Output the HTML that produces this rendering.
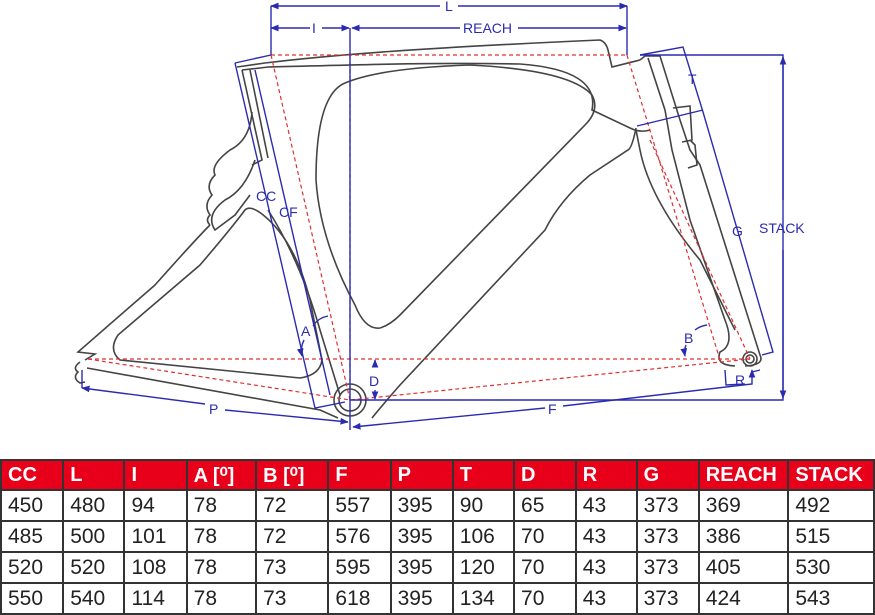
<!DOCTYPE html>
<html><head><meta charset="utf-8"><style>
body{margin:0;background:#fff;width:875px;height:615px;overflow:hidden;font-family:"Liberation Sans",sans-serif}
svg{position:absolute;left:0;top:0}
table{position:absolute;left:0;top:459px;border-collapse:collapse;font-size:21px}
td{border:2px solid #333;height:29px;padding:0 0 0 6px;color:#222}
tr.h td{background:#e8001b;color:#fff;font-weight:bold;height:28px;font-size:20px}
</style></head><body>
<svg width="875" height="455" viewBox="0 0 875 455">
<defs><marker id="ar" viewBox="0 0 10 10" refX="9" refY="5" markerWidth="6" markerHeight="6" orient="auto-start-reverse"><path d="M0,1 L10,5 L0,9z" fill="#2b2bb0"/></marker></defs>
<g fill="none" stroke="#444" stroke-width="1.6">
<path d="M237,67 L265,63 C330,55 420,48 600,40 Q606,42 608,50 L612,67 L640,60"/>
<path d="M242,70 L260,68 L268,67 C320,66 420,62 520,64 Q600,70 592,110 L630,128 Q640,133 650,130"/>
<path d="M345,83 Q316,95 316,180 Q320,240 355,305 Q365,330 380,328 Q390,325 400,315 L585,125 Q600,110 592,95 Q570,70 470,65 Q380,68 345,83Z"/>
<path d="M636,128 Q632,148 628,150 L590,175 Q560,200 545,230 L400,385 Q385,402 372,418"/>
<path d="M242,70 L262,160 L252,165"/>
<path d="M250,70 L268,158"/>
<path d="M255,160 Q245,190 225,200 Q205,215 215,230 L235,215 L250,195"/>
<path d="M252,112 Q250,140 230,150 Q210,165 215,175 Q205,185 212,195 Q203,205 210,215 Q205,220 210,225"/>
<path d="M210,225 Q195,240 155,285 L78,352 L95,354 L85,360"/>
<path d="M245,210 Q250,205 262,214 Q295,240 310,300 Q318,340 322,360 Q320,375 300,378 L120,360 Q108,350 118,335 L200,265 Q230,230 245,210Z"/>
<path d="M87,368 L320,410 L338,418"/>
<path d="M80,362 Q72,368 78,372 Q72,378 80,383 L85,382"/>
<path d="M268,210 Q300,260 320,330 L340,395"/>
<path d="M640,60 L645,56 L660,56 L680,120 L690,150 L700,165 L760,355 Q765,365 745,366"/>
<path d="M648,58 L665,110 L672,150 L690,220 L725,320 Q735,345 720,352 Q715,365 735,366"/>
<path d="M636,130 L640,150 Q650,200 700,260 L735,330"/>
<path d="M673,108 L690,106 L692,140 L682,142"/>
<path d="M690,140 L695,145 L697,165 L688,168"/>
<circle cx="350" cy="400" r="16"/><circle cx="350" cy="400" r="11"/>
<circle cx="750" cy="359" r="7"/><circle cx="750" cy="359" r="4"/>
</g>
<g fill="none" stroke="#e03030" stroke-width="1.2" stroke-dasharray="4,3">
<path d="M271,55 L627,55"/><path d="M271,55 L350,400"/>
<path d="M88,359 L750,359"/><path d="M88,359 L350,400 L750,359"/>
<path d="M627,55 L720,360"/><path d="M650,140 L750,359"/>
<path d="M350,55 L350,400"/>
</g>
<g fill="none" stroke="#2b2bb0" stroke-width="1.4">
<path d="M271,6 L271,55 M627,6 L627,55 M350,28 L350,430"/>
<path d="M458,6 L627,6" marker-end="url(#ar)"/>
<path d="M440,6 L271,6" marker-end="url(#ar)"/>
<path d="M310,28 L271,28" marker-end="url(#ar)"/><path d="M322,28 L349,28" marker-end="url(#ar)"/>
<path d="M460,28 L352,28" marker-end="url(#ar)"/><path d="M518,28 L626,28" marker-end="url(#ar)"/>
<path d="M640,55 L783,55 L783,400 L350,400"/>
<path d="M783,200 L783,57" marker-end="url(#ar)"/><path d="M783,250 L783,398" marker-end="url(#ar)"/>
<path d="M235,63 L271,55"/><path d="M235,63 L315,408 L345,402"/>
<path d="M255,70 L330,395"/>
<path d="M82,388 L82,370"/><path d="M205,404 L82,388" marker-end="url(#ar)"/><path d="M225,410 L348,422" marker-end="url(#ar)"/>
<path d="M545,408 L353,427" marker-end="url(#ar)"/><path d="M563,406 L752,384 L752,370" marker-end="url(#ar)"/>
<path d="M640,55 L683,47 L703,112 L773,352 L762,355"/>
<path d="M637,126 L703,110"/>
<path d="M375,365 L375,360" marker-end="url(#ar)"/><path d="M375,390 L375,399" marker-end="url(#ar)"/>
<path d="M313,326 Q318,318 328,316"/><path d="M304,340 Q300,348 302,356" marker-end="url(#ar)"/>
<path d="M695,330 Q700,326 707,325"/><path d="M686,345 Q684,350 685,356" marker-end="url(#ar)"/>
<path d="M725,370 L726,385 L745,384"/><path d="M752,372 L760,370"/>
</g>
<g fill="#2b2bb0" font-family="Liberation Sans,sans-serif" font-size="14">
<text x="445" y="11">L</text><text x="312" y="33">I</text><text x="463" y="33">REACH</text>
<text x="759" y="233">STACK</text><text x="732" y="236">G</text><text x="688" y="84">T</text>
<text x="256" y="201">CC</text><text x="279" y="217">CF</text><text x="301" y="336">A</text>
<text x="684" y="343">B</text><text x="369" y="386">D</text><text x="735" y="385">R</text>
<text x="209" y="414">P</text><text x="548" y="414">F</text>
</g>
</svg>
<table>
<tr class="h"><td style="width:55px">CC</td><td style="width:54px">L</td><td style="width:55px">I</td><td style="width:63px">A [⁰]</td><td style="width:66px">B [⁰]</td><td style="width:55px">F</td><td style="width:55px">P</td><td style="width:54px">T</td><td style="width:55px">D</td><td style="width:54px">R</td><td style="width:55px">G</td><td style="width:82px">REACH</td><td style="width:78px">STACK</td></tr>
<tr><td>450</td><td>480</td><td>94</td><td>78</td><td>72</td><td>557</td><td>395</td><td>90</td><td>65</td><td>43</td><td>373</td><td>369</td><td>492</td></tr>
<tr><td>485</td><td>500</td><td>101</td><td>78</td><td>72</td><td>576</td><td>395</td><td>106</td><td>70</td><td>43</td><td>373</td><td>386</td><td>515</td></tr>
<tr><td>520</td><td>520</td><td>108</td><td>78</td><td>73</td><td>595</td><td>395</td><td>120</td><td>70</td><td>43</td><td>373</td><td>405</td><td>530</td></tr>
<tr><td>550</td><td>540</td><td>114</td><td>78</td><td>73</td><td>618</td><td>395</td><td>134</td><td>70</td><td>43</td><td>373</td><td>424</td><td>543</td></tr>
</table>
</body></html>
